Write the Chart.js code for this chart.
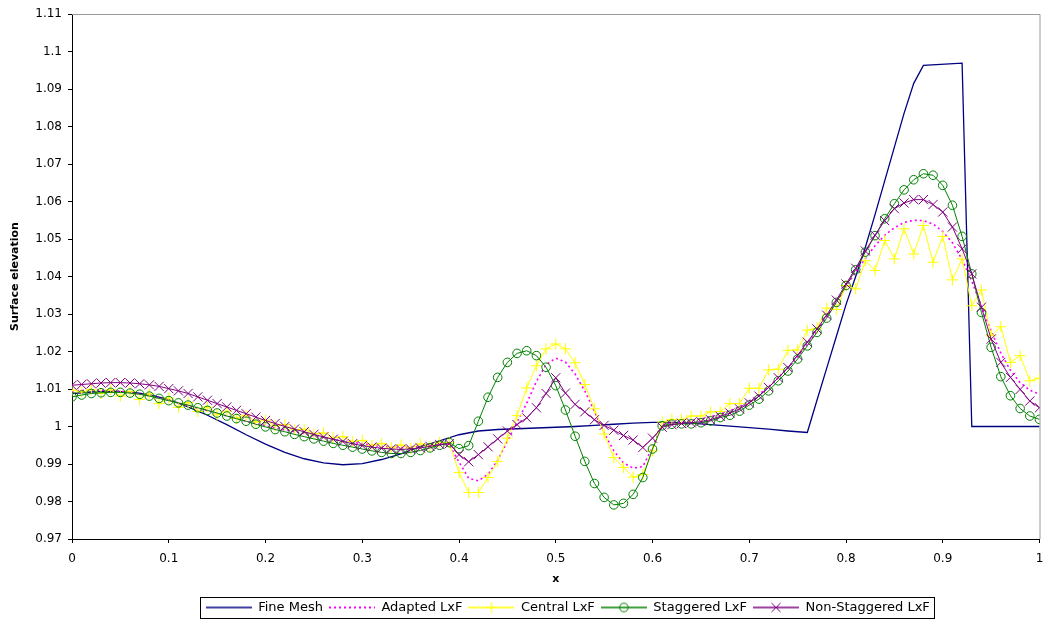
<!DOCTYPE html>
<html>
<head>
<meta charset="utf-8">
<script src="https://cdn.jsdelivr.net/npm/chart.js@4/dist/chart.umd.min.js"></script>
<style>
  body { margin: 0; background: #fff; }
  #wrap { width: 1047px; height: 622px; }
</style>
</head>
<body>
<div id="wrap"><canvas id="surfaceChart" width="1047" height="622"></canvas></div>
<script>
// grid positions shared by the four LxF runs
const xGrid = [
  0, 0.01, 0.02, 0.03, 0.04, 0.05, 0.06, 0.07, 0.08, 0.09,
  0.1, 0.11, 0.12, 0.13, 0.14, 0.15, 0.16, 0.17, 0.18, 0.19,
  0.2, 0.21, 0.22, 0.23, 0.24, 0.25, 0.26, 0.27, 0.28, 0.29,
  0.3, 0.31, 0.32, 0.33, 0.34, 0.35, 0.36, 0.37, 0.38, 0.39,
  0.4, 0.41, 0.42, 0.43, 0.44, 0.45, 0.46, 0.47, 0.48, 0.49,
  0.5, 0.51, 0.52, 0.53, 0.54, 0.55, 0.56, 0.57, 0.58, 0.59,
  0.6, 0.61, 0.62, 0.63, 0.64, 0.65, 0.66, 0.67, 0.68, 0.69,
  0.7, 0.71, 0.72, 0.73, 0.74, 0.75, 0.76, 0.77, 0.78, 0.79,
  0.8, 0.81, 0.82, 0.83, 0.84, 0.85, 0.86, 0.87, 0.88, 0.89,
  0.9, 0.91, 0.92, 0.93, 0.94, 0.95, 0.96, 0.97, 0.98, 0.99,
  1
];

// reference solution on the fine mesh
const fineMeshX = [
  0, 0.02, 0.04, 0.06, 0.08, 0.1, 0.12, 0.14, 0.16, 0.18,
  0.2, 0.22, 0.24, 0.26, 0.28, 0.3, 0.32, 0.34, 0.36, 0.38,
  0.4, 0.42, 0.44, 0.46, 0.48, 0.5, 0.52, 0.54, 0.56, 0.58,
  0.6, 0.62, 0.64, 0.66, 0.68, 0.7, 0.72, 0.74, 0.76, 0.77,
  0.78, 0.79, 0.8, 0.81, 0.82, 0.83, 0.84, 0.85, 0.86, 0.87,
  0.88, 0.92, 0.93, 1
];
const fineMeshY = [
  1.0088, 1.0092, 1.0094, 1.0092, 1.0085, 1.0072, 1.0052, 1.0030, 1.0005, 0.9978,
  0.9953, 0.9931, 0.9914, 0.9903, 0.9898, 0.9901, 0.9912, 0.9927, 0.9946, 0.9962,
  0.9978, 0.9988, 0.9992, 0.9994, 0.9996, 0.9998, 1.0000, 1.0003, 1.0006, 1.0009,
  1.0011, 1.0011, 1.0009, 1.0005, 1.0001, 0.9997, 0.9993, 0.9988, 0.9984, 1.0070,
  1.0155, 1.0240, 1.0325, 1.0400, 1.0478, 1.0565, 1.0655, 1.0745, 1.0835, 1.0915,
  1.0963, 1.0969, 1.0000, 1.0000
];

const adaptedLxF = [
  1.0095, 1.0096, 1.0097, 1.0097, 1.0096, 1.0094, 1.0091, 1.0087, 1.0082, 1.0076,
  1.0070, 1.0063, 1.0056, 1.0049, 1.0042, 1.0035, 1.0028, 1.0021, 1.0014, 1.0008,
  1.0002, 0.9996, 0.9991, 0.9986, 0.9981, 0.9976, 0.9971, 0.9966, 0.9962, 0.9958,
  0.9954, 0.9950, 0.9947, 0.9945, 0.9944, 0.9945, 0.9947, 0.9950, 0.9953, 0.9951,
  0.9905, 0.9862, 0.9855, 0.9873, 0.9910, 0.9960, 1.0012, 1.0062, 1.0120, 1.0165,
  1.0182, 1.0172, 1.0140, 1.0095, 1.0040, 0.9983, 0.9935, 0.9903, 0.9889, 0.9893,
  0.9945, 1.0005, 1.0010, 1.0012, 1.0016, 1.0020, 1.0026, 1.0033, 1.0042, 1.0053,
  1.0068, 1.0085, 1.0106, 1.0130, 1.0157, 1.0187, 1.0219, 1.0254, 1.0292, 1.0332,
  1.0373, 1.0412, 1.0448, 1.0482, 1.0510, 1.0530, 1.0544, 1.0550, 1.0549, 1.0540,
  1.0520, 1.0490, 1.0445, 1.0388, 1.0320, 1.0255, 1.0196, 1.0150, 1.0117, 1.0097,
  1.0086
];

const centralLxF = [
  1.0097, 1.0092, 1.0099, 1.0088, 1.0098, 1.0081, 1.0094, 1.0072, 1.0087, 1.0061,
  1.0076, 1.0051, 1.0064, 1.0040, 1.0052, 1.0031, 1.0041, 1.0022, 1.0030, 1.0012,
  1.0017, 1.0002, 1.0005, 0.9991, 0.9993, 0.9980, 0.9983, 0.9970, 0.9973, 0.9960,
  0.9963, 0.9950, 0.9955, 0.9943, 0.9951, 0.9942, 0.9954, 0.9947, 0.9958, 0.9957,
  0.9877, 0.9824, 0.9824, 0.9864, 0.9907, 0.9969, 1.0029, 1.0103, 1.0162, 1.0207,
  1.0220, 1.0207, 1.0170, 1.0112, 1.0047, 0.9980, 0.9917, 0.9891, 0.9865, 0.9872,
  0.9935, 1.0012, 1.0019, 1.0019, 1.0028, 1.0028, 1.0039, 1.0040, 1.0061, 1.0061,
  1.0102, 1.0102, 1.0151, 1.0153, 1.0203, 1.0204, 1.0257, 1.0262, 1.0316, 1.0312,
  1.0376, 1.0367, 1.0442, 1.0416, 1.0496, 1.0447, 1.0527, 1.0460, 1.0536, 1.0438,
  1.0507, 1.0391, 1.0447, 1.0322, 1.0364, 1.0242, 1.0266, 1.0171, 1.0189, 1.0122,
  1.0129
];

const staggeredLxF = [
  1.0079, 1.0084, 1.0088, 1.0090, 1.0091, 1.0091, 1.0089, 1.0086, 1.0081, 1.0075,
  1.0069, 1.0063, 1.0057, 1.0050, 1.0043, 1.0036, 1.0028, 1.0021, 1.0014, 1.0006,
  0.9999, 0.9992, 0.9986, 0.9979, 0.9973, 0.9967, 0.9961, 0.9955, 0.9950, 0.9945,
  0.9940, 0.9935, 0.9931, 0.9928, 0.9928, 0.9931, 0.9936, 0.9943, 0.9950, 0.9957,
  0.9941, 0.9949, 1.0014, 1.0078, 1.0131, 1.0171, 1.0195, 1.0202, 1.0189, 1.0158,
  1.0109, 1.0044, 0.9974, 0.9907, 0.9848, 0.9811, 0.9791, 0.9795, 0.9819, 0.9864,
  0.9940, 1.0002, 1.0006, 1.0007, 1.0007, 1.0010, 1.0015, 1.0024, 1.0030, 1.0041,
  1.0057, 1.0073, 1.0095, 1.0122, 1.0148, 1.0180, 1.0215, 1.0251, 1.0289, 1.0331,
  1.0376, 1.0418, 1.0465, 1.0509, 1.0554, 1.0594, 1.0631, 1.0658, 1.0674, 1.0670,
  1.0643, 1.0590, 1.0507, 1.0407, 1.0304, 1.0211, 1.0133, 1.0082, 1.0048, 1.0028,
  1.0019
];

const nonStaggeredLxF = [
  1.0110, 1.0112, 1.0114, 1.0116, 1.0117, 1.0117, 1.0116, 1.0114, 1.0111, 1.0107,
  1.0101, 1.0095, 1.0088, 1.0079, 1.0070, 1.0061, 1.0052, 1.0043, 1.0034, 1.0025,
  1.0016, 1.0008, 1.0000, 0.9993, 0.9986, 0.9979, 0.9972, 0.9966, 0.9960, 0.9954,
  0.9949, 0.9945, 0.9942, 0.9940, 0.9939, 0.9940, 0.9943, 0.9947, 0.9952, 0.9954,
  0.9925, 0.9906, 0.9925, 0.9946, 0.9967, 0.9988, 1.0005, 1.0023, 1.0050, 1.0088,
  1.0130, 1.0089, 1.0059, 1.0039, 1.0018, 1.0003, 0.9990, 0.9976, 0.9964, 0.9944,
  0.9969, 0.9998, 1.0005, 1.0008, 1.0010, 1.0013, 1.0018, 1.0027, 1.0036, 1.0047,
  1.0063, 1.0081, 1.0104, 1.0130, 1.0157, 1.0190, 1.0225, 1.0260, 1.0297, 1.0337,
  1.0380, 1.0422, 1.0468, 1.0510, 1.0549, 1.0581, 1.0596, 1.0605, 1.0605, 1.0592,
  1.0572, 1.0532, 1.0474, 1.0407, 1.0318, 1.0233, 1.0171, 1.0131, 1.0099, 1.0068,
  1.0050
];

const seriesNames = ["Fine Mesh", "Adapted LxF", "Central LxF", "Staggered LxF", "Non-Staggered LxF"];

const NAVY = "#000080", MAGENTA = "#FF00FF", YELLOW = "#FFFF00", GREEN = "#008000", PURPLE = "#800080";
const FONT = "'DejaVu Sans', 'Liberation Sans', Arial, sans-serif";

function pairs(xs, ys) {
  return ys.map((y, i) => ({ x: xs[i], y: y }));
}

// little line+marker sample for the legend
function swatch(color, dash, marker) {
  const c = document.createElement("canvas");
  c.width = 46;
  c.height = 12;
  const g = c.getContext("2d");
  g.strokeStyle = color;
  g.lineWidth = dash ? 2 : 1.3;
  g.setLineDash(dash || []);
  g.beginPath();
  g.moveTo(0, 6);
  g.lineTo(46, 6);
  g.stroke();
  g.setLineDash([]);
  g.lineWidth = 1;
  g.beginPath();
  if (marker === "plus") {
    g.moveTo(23, 0.5); g.lineTo(23, 11.5);
    g.moveTo(17.5, 6); g.lineTo(28.5, 6);
  } else if (marker === "circle") {
    g.arc(23, 6, 4.3, 0, Math.PI * 2);
  } else if (marker === "x") {
    g.moveTo(18.5, 1.5); g.lineTo(27.5, 10.5);
    g.moveTo(27.5, 1.5); g.lineTo(18.5, 10.5);
  }
  g.stroke();
  return c;
}

const swatches = [
  swatch(NAVY, null, null),
  swatch(MAGENTA, [2, 3], null),
  swatch(YELLOW, null, "plus"),
  swatch(GREEN, null, "circle"),
  swatch(PURPLE, null, "x")
];

// gray top/right edge of the plot box
const plotFrame = {
  id: "plotFrame",
  beforeDatasetsDraw(chart) {
    const { ctx, chartArea: a } = chart;
    ctx.save();
    ctx.strokeStyle = "#9a9a9a";
    ctx.lineWidth = 1;
    ctx.beginPath();
    ctx.moveTo(a.left, a.top + 0.5);
    ctx.lineTo(a.right + 0.5, a.top + 0.5);
    ctx.lineTo(a.right + 0.5, a.bottom);
    ctx.stroke();
    ctx.restore();
  }
};

// legend sits a bit right of the plot centre, inside a black box
const legendFrame = {
  id: "legendFrame",
  afterLayout(chart) {
    const lg = chart.legend;
    if (lg) {
      lg.left += 12;
      lg.right += 12;
      lg.top += 2;
      lg.bottom += 2;
    }
  },
  afterDraw(chart) {
    const boxes = chart.legend && chart.legend.legendHitBoxes;
    if (!boxes || !boxes.length) return;
    let l = Infinity, r = -Infinity, t = Infinity, b = -Infinity;
    boxes.forEach((h) => {
      l = Math.min(l, h.left);
      r = Math.max(r, h.left + h.width);
      t = Math.min(t, h.top);
      b = Math.max(b, h.top + h.height);
    });
    const ctx = chart.ctx;
    ctx.save();
    ctx.strokeStyle = "#000";
    ctx.lineWidth = 1;
    ctx.strokeRect(Math.round(l - 6) + 0.5, Math.round(t - 4) + 0.5, Math.round(r - l + 10), Math.round(b - t + 8));
    ctx.restore();
  }
};

const ctx = document.getElementById("surfaceChart");
new Chart(ctx, {
  type: "line",
  data: {
    datasets: [
      {
        label: seriesNames[0],
        data: pairs(fineMeshX, fineMeshY),
        borderColor: NAVY,
        borderWidth: 1.3,
        pointRadius: 0,
        order: 5
      },
      {
        label: seriesNames[1],
        data: pairs(xGrid, adaptedLxF),
        borderColor: MAGENTA,
        borderWidth: 1.6,
        borderDash: [2, 3],
        pointRadius: 0,
        order: 4
      },
      {
        label: seriesNames[2],
        data: pairs(xGrid, centralLxF),
        borderColor: YELLOW,
        borderWidth: 1,
        pointStyle: "cross",
        pointRadius: 5.5,
        pointBorderWidth: 1,
        pointBorderColor: YELLOW,
        order: 3
      },
      {
        label: seriesNames[3],
        data: pairs(xGrid, staggeredLxF),
        borderColor: GREEN,
        borderWidth: 1,
        pointStyle: "circle",
        pointRadius: 4.3,
        pointBorderWidth: 1,
        pointBorderColor: GREEN,
        pointBackgroundColor: "rgba(0,0,0,0)",
        order: 2
      },
      {
        label: seriesNames[4],
        data: pairs(xGrid, nonStaggeredLxF),
        borderColor: PURPLE,
        borderWidth: 1,
        pointStyle: "crossRot",
        pointRadius: 6.5,
        pointBorderWidth: 1,
        pointBorderColor: PURPLE,
        order: 1
      }
    ]
  },
  options: {
    responsive: false,
    animation: false,
    devicePixelRatio: 1,
    layout: { padding: { top: 14, right: 6, bottom: 0, left: 0 } },
    elements: { line: { tension: 0, fill: false } },
    plugins: {
      tooltip: { enabled: false },
      legend: {
        position: "bottom",
        fullSize: false,
        labels: {
          usePointStyle: true,
          pointStyleWidth: 46,
          padding: 6,
          color: "#000",
          font: { family: FONT, size: 13 },
          generateLabels: (chart) =>
            chart.data.datasets.map((ds, i) => ({
              text: ds.label,
              pointStyle: swatches[i],
              datasetIndex: i,
              hidden: false,
              lineWidth: 0,
              strokeStyle: "rgba(0,0,0,0)",
              fillStyle: "rgba(0,0,0,0)",
              fontColor: "#000"
            }))
        }
      }
    },
    scales: {
      x: {
        type: "linear",
        min: 0,
        max: 1,
        afterFit: (s) => {
          s.height = 54;
          s.paddingLeft = 0;
          s.paddingRight = 0;
        },
        ticks: {
          stepSize: 0.1,
          autoSkip: false,
          maxRotation: 0,
          padding: 9,
          color: "#000",
          font: { family: FONT, size: 12 },
          callback: (v) => String(Math.round(v * 10) / 10)
        },
        grid: { drawOnChartArea: false, drawTicks: true, tickLength: 4, color: "#000" },
        border: { color: "#000", width: 1 },
        title: {
          display: true,
          text: "x",
          color: "#000",
          font: { family: FONT, size: 11, weight: "bold" },
          padding: { top: 0, bottom: 7 }
        }
      },
      y: {
        min: 0.97,
        max: 1.11,
        afterFit: (s) => { s.width = 72; },
        ticks: {
          stepSize: 0.01,
          padding: 6,
          color: "#000",
          font: { family: FONT, size: 12 },
          callback: (v) => String(Math.round(v * 100) / 100)
        },
        grid: { drawOnChartArea: false, drawTicks: true, tickLength: 4, color: "#000" },
        border: { color: "#000", width: 1 },
        title: {
          display: true,
          text: "Surface elevation",
          color: "#000",
          font: { family: FONT, size: 11, weight: "bold" },
          padding: { top: 9, bottom: 0 }
        }
      }
    }
  },
  plugins: [plotFrame, legendFrame]
});
</script>
</body>
</html>
